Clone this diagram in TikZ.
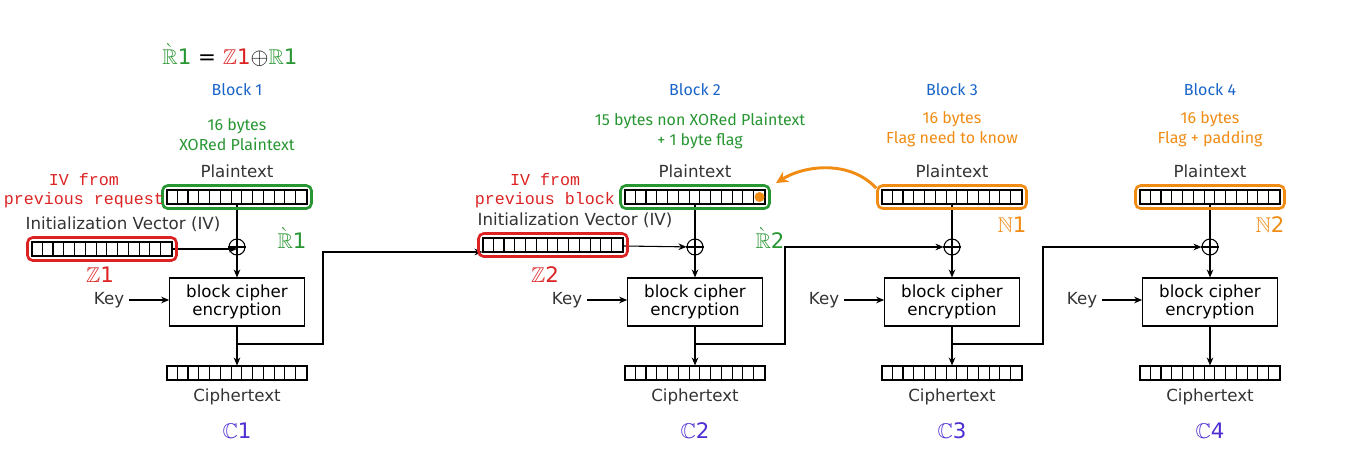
\documentclass[tikz,border=0pt]{standalone}
\usepackage{amssymb}
\usepackage{fontspec}
\setmainfont{DejaVu Sans}
\newfontfamily\monofont{Liberation Mono}
\newfontfamily\handfont{Fira Sans}
\usetikzlibrary{positioning,fit,arrows.meta,calc}
\definecolor{hlgreen}{RGB}{40,150,50}
\definecolor{hlred}{RGB}{220,35,35}
\definecolor{hlorange}{RGB}{240,140,20}
\definecolor{hlblue}{RGB}{25,100,200}
\definecolor{hlpurple}{RGB}{80,45,210}
\tikzset{
  reg/.style={draw, minimum width=105pt, minimum height=10.5pt, inner sep=0pt},
  enc/.style={draw, minimum width=101pt, minimum height=36pt, align=center, font=\fontsize{12.5}{14}\selectfont},
  lbl/.style={font=\fontsize{12.5}{14}\selectfont, text=black!80},
  hl/.style={draw=#1, line width=2pt, rounded corners=4pt, inner sep=3pt},
  note/.style={font=\handfont\fontsize{12}{15}\selectfont, align=center},
  iv/.style={font=\monofont\fontsize{12.5}{14}\selectfont, text=hlred, align=center},
  sym/.style={font=\fontsize{16}{18}\selectfont},
  >={Stealth[length=6pt,width=5pt]}
}
\newcommand\cells[1]{\foreach \k in {1,...,12} {\draw ($(#1.north west)+(\k*10.769,0)$) -- ++(0,14);}}
\begin{document}
\begin{tikzpicture}[x=0.75pt, y=-0.75pt, line width=0.8pt]
\useasboundingbox (0,0) rectangle (1358,468);
% common parts of the four blocks
\foreach \i/\cx in {1/237,2/695,3/952,4/1210} {
  \node[lbl] (ptl\i) at (\cx,171) {Plaintext};
  \node[reg] (pt\i) at (\cx,197) {};
  \cells{pt\i}
  \node[draw, circle, minimum size=12pt, inner sep=0pt] (xor\i) at (\cx,247) {};
  \draw (xor\i.north) -- (xor\i.south) (xor\i.west) -- (xor\i.east);
  \node[enc] (enc\i) at (\cx,302) {block cipher\\encryption};
  \node[lbl] (key\i) at (\cx-128,300) {Key};
  \draw[->] (key\i) -- (enc\i.west |- key\i);
  \node[reg] (ct\i) at (\cx,373) {};
  \cells{ct\i}
  \node[lbl] (ctl\i) at (\cx,397) {Ciphertext};
  \draw (pt\i) -- (xor\i);
  \draw[->] (xor\i) -- (enc\i);
  \draw[->] (enc\i) -- (ct\i);
  \coordinate (br\i) at (\cx,344);
  \node[sym, text=hlpurple] (c\i) at (\cx,431) {$\mathbb{C}$\i};
  \node[note, text=hlblue] (blk\i) at (\cx,90) {Block \i};
}
% IV registers
\node[reg] (iv1) at (102,249) {};
\cells{iv1}
\node[reg] (iv2) at (553,245) {};
\cells{iv2}
\node[lbl] at (123,224) {Initialization Vector (IV)};
\node[lbl] at (575,220) {Initialization Vector (IV)};
\draw[->] (iv1) -- (xor1 |- iv1);
\draw[->] (iv2) -- (xor2);
% chaining
\draw[->] (br1) -| (323,252) -- (iv2.west |- 0,252);
\draw[->] (br2) -| (785,247) -- (xor3);
\draw[->] (br3) -| (1043,247) -- (xor4);
% highlights
\node[hl=hlgreen, fit=(pt1)] (hpt1) {};
\node[hl=hlgreen, fit=(pt2)] (hpt2) {};
\node[hl=hlorange, fit=(pt3)] (hpt3) {};
\node[hl=hlorange, fit=(pt4)] (hpt4) {};
\node[hl=hlred, fit=(iv1)] (hiv1) {};
\node[hl=hlred, fit=(iv2)] (hiv2) {};
\fill[hlorange] ($(pt2.east)+(-6,0)$) circle (5);
\draw[hlorange, line width=2.2pt, -{Stealth[length=9pt,width=9pt]}] ([yshift=-3]hpt3.north west) .. controls (850,160) and (805,165) .. (776,183);
% notes
\node[sym] (form) at (230,55) {\textcolor{hlgreen}{$\grave{\mathbb{R}}$1} = \textcolor{hlred}{$\mathbb{Z}$1}$\oplus$\textcolor{hlgreen}{$\mathbb{R}$1}};
\node[note, text=hlgreen] at (237,135) {16 bytes\\XORed Plaintext};
\node[note, text=hlgreen] at (700,131) {15 bytes non XORed Plaintext\\+ 1 byte flag};
\node[note, text=hlorange] at (952,129) {16 bytes\\Flag need to know};
\node[note, text=hlorange] at (1210,129) {16 bytes\\Flag + padding};
\node[iv] at (84,191) {IV from\\previous request};
\node[iv] at (545,191) {IV from\\previous block};
\node[sym, text=hlgreen] at (292,238) {$\grave{\mathbb{R}}$1};
\node[sym, text=hlgreen] at (770,238) {$\grave{\mathbb{R}}$2};
\node[sym, text=hlred] at (100,275) {$\mathbb{Z}$1};
\node[sym, text=hlred] at (545,275) {$\mathbb{Z}$2};
\node[sym, text=hlorange] at (1012,225) {$\mathbb{N}$1};
\node[sym, text=hlorange] at (1270,225) {$\mathbb{N}$2};
\end{tikzpicture}
\end{document}
